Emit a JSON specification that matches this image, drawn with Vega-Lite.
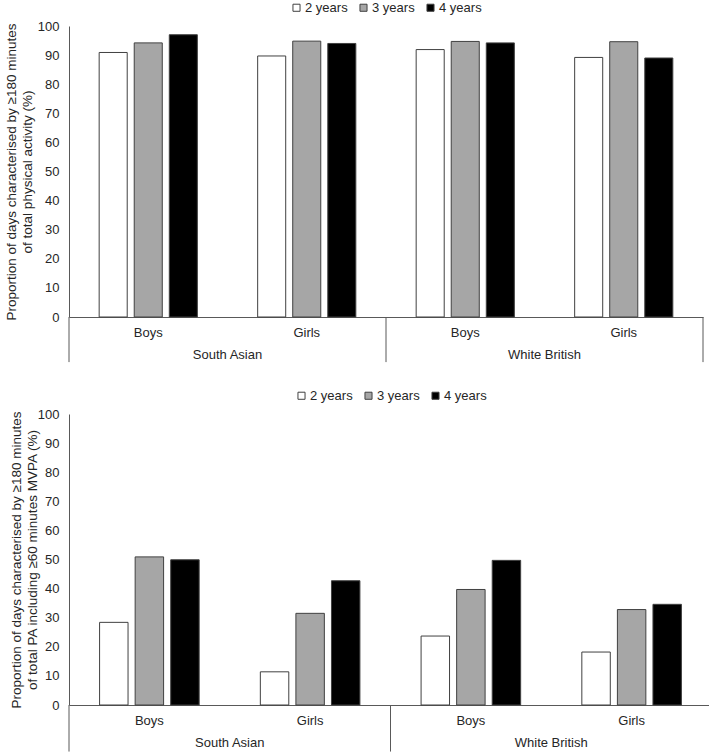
{
  "$schema": "https://vega.github.io/schema/vega-lite/v6.json",
  "background": "white",
  "padding": {"top": 1, "left": 4, "right": 4, "bottom": 0},
  "datasets": {
    "pa": [
      {"panel": "TPA", "eth": "South Asian", "sex": "Boys", "year": "2 years", "value": 90.9},
      {"panel": "TPA", "eth": "South Asian", "sex": "Boys", "year": "3 years", "value": 94.2},
      {"panel": "TPA", "eth": "South Asian", "sex": "Boys", "year": "4 years", "value": 97.0},
      {"panel": "TPA", "eth": "South Asian", "sex": "Girls", "year": "2 years", "value": 89.7},
      {"panel": "TPA", "eth": "South Asian", "sex": "Girls", "year": "3 years", "value": 94.8},
      {"panel": "TPA", "eth": "South Asian", "sex": "Girls", "year": "4 years", "value": 94.0},
      {"panel": "TPA", "eth": "White British", "sex": "Boys", "year": "2 years", "value": 91.9},
      {"panel": "TPA", "eth": "White British", "sex": "Boys", "year": "3 years", "value": 94.7},
      {"panel": "TPA", "eth": "White British", "sex": "Boys", "year": "4 years", "value": 94.2},
      {"panel": "TPA", "eth": "White British", "sex": "Girls", "year": "2 years", "value": 89.2},
      {"panel": "TPA", "eth": "White British", "sex": "Girls", "year": "3 years", "value": 94.6},
      {"panel": "TPA", "eth": "White British", "sex": "Girls", "year": "4 years", "value": 89.0},
      {"panel": "MVPA", "eth": "South Asian", "sex": "Boys", "year": "2 years", "value": 28.4},
      {"panel": "MVPA", "eth": "South Asian", "sex": "Boys", "year": "3 years", "value": 50.9},
      {"panel": "MVPA", "eth": "South Asian", "sex": "Boys", "year": "4 years", "value": 49.9},
      {"panel": "MVPA", "eth": "South Asian", "sex": "Girls", "year": "2 years", "value": 11.4},
      {"panel": "MVPA", "eth": "South Asian", "sex": "Girls", "year": "3 years", "value": 31.5},
      {"panel": "MVPA", "eth": "South Asian", "sex": "Girls", "year": "4 years", "value": 42.7},
      {"panel": "MVPA", "eth": "White British", "sex": "Boys", "year": "2 years", "value": 23.7},
      {"panel": "MVPA", "eth": "White British", "sex": "Boys", "year": "3 years", "value": 39.7},
      {"panel": "MVPA", "eth": "White British", "sex": "Boys", "year": "4 years", "value": 49.7},
      {"panel": "MVPA", "eth": "White British", "sex": "Girls", "year": "2 years", "value": 18.2},
      {"panel": "MVPA", "eth": "White British", "sex": "Girls", "year": "3 years", "value": 32.8},
      {"panel": "MVPA", "eth": "White British", "sex": "Girls", "year": "4 years", "value": 34.6}
    ],
    "seps_start": [{"cat": "South Asian|Boys"}, {"cat": "White British|Boys"}],
    "seps_end": [{"cat": "White British|Girls"}],
    "groups": [
      {"cat": "South Asian|Girls", "label": "South Asian"},
      {"cat": "White British|Girls", "label": "White British"}
    ]
  },
  "concat": [
    {
      "width": 634,
      "height": 291,
      "layer": [
        {
          "data": {"name": "pa"},
          "transform": [
            {"filter": "datum.panel == 'TPA'"},
            {"calculate": "datum.eth + '|' + datum.sex", "as": "cat"}
          ],
          "mark": {"type": "bar", "stroke": "#404040", "strokeWidth": 1},
          "encoding": {
            "x": {
              "field": "cat", "type": "nominal",
              "scale": {"domain": ["South Asian|Boys", "South Asian|Girls", "White British|Boys", "White British|Girls"], "paddingInner": 0, "paddingOuter": 0},
              "axis": {"title": null, "labelExpr": "split(datum.value, '|')[1]"}
            },
            "xOffset": {
              "field": "year", "type": "nominal",
              "scale": {"domain": ["2 years", "3 years", "4 years"], "paddingInner": 0.2, "paddingOuter": 0.86}
            },
            "y": {
              "field": "value", "type": "quantitative",
              "scale": {"domain": [0, 100], "nice": false},
              "axis": {"title": ["Proportion of days characterised by ≥180 minutes", "of total physical activity (%)"], "titlePadding": 3}
            },
            "color": {
              "field": "year", "type": "nominal",
              "scale": {"domain": ["2 years", "3 years", "4 years"], "range": ["#FFFFFF", "#A6A6A6", "#000000"]},
              "legend": {"title": null, "orient": "top", "direction": "horizontal", "symbolType": "square", "symbolSize": 50, "symbolStrokeColor": "#404040", "symbolStrokeWidth": 1, "labelFontSize": 13, "labelColor": "#262626", "columnPadding": 9, "labelOffset": 2, "offset": 11}
            }
          }
        },
        {
          "data": {"name": "seps_start"},
          "mark": {"type": "rule", "color": "#595959", "strokeWidth": 1},
          "encoding": {
            "x": {"field": "cat", "type": "nominal", "bandPosition": 0, "axis": {"title": null, "labelExpr": "split(datum.value, '|')[1]"}},
            "y": {"datum": 0, "type": "quantitative", "axis": {"title": ["Proportion of days characterised by ≥180 minutes", "of total physical activity (%)"], "titlePadding": 3}},
            "y2": {"datum": -15.5}
          }
        },
        {
          "data": {"name": "seps_end"},
          "mark": {"type": "rule", "color": "#595959", "strokeWidth": 1},
          "encoding": {
            "x": {"field": "cat", "type": "nominal", "bandPosition": 1, "axis": {"title": null, "labelExpr": "split(datum.value, '|')[1]"}},
            "y": {"datum": 0, "type": "quantitative", "axis": {"title": ["Proportion of days characterised by ≥180 minutes", "of total physical activity (%)"], "titlePadding": 3}},
            "y2": {"datum": -15.5}
          }
        },
        {
          "data": {"name": "groups"},
          "mark": {"type": "text", "fontSize": 13, "color": "#262626", "baseline": "middle", "align": "center"},
          "encoding": {
            "x": {"field": "cat", "type": "nominal", "bandPosition": 0, "axis": {"title": null, "labelExpr": "split(datum.value, '|')[1]"}},
            "y": {"datum": -13.2, "type": "quantitative", "axis": {"title": ["Proportion of days characterised by ≥180 minutes", "of total physical activity (%)"], "titlePadding": 3}},
            "text": {"field": "label"}
          }
        }
      ]
    },
    {
      "width": 643,
      "height": 291,
      "layer": [
        {
          "data": {"name": "pa"},
          "transform": [
            {"filter": "datum.panel == 'MVPA'"},
            {"calculate": "datum.eth + '|' + datum.sex", "as": "cat"}
          ],
          "mark": {"type": "bar", "stroke": "#404040", "strokeWidth": 1},
          "encoding": {
            "x": {
              "field": "cat", "type": "nominal",
              "scale": {"domain": ["South Asian|Boys", "South Asian|Girls", "White British|Boys", "White British|Girls"], "paddingInner": 0, "paddingOuter": 0},
              "axis": {"title": null, "labelExpr": "split(datum.value, '|')[1]"}
            },
            "xOffset": {
              "field": "year", "type": "nominal",
              "scale": {"domain": ["2 years", "3 years", "4 years"], "paddingInner": 0.2, "paddingOuter": 0.86}
            },
            "y": {
              "field": "value", "type": "quantitative",
              "scale": {"domain": [0, 100], "nice": false},
              "axis": {"title": ["Proportion of days characterised by ≥180 minutes", "of total PA including ≥60 minutes MVPA (%)"], "titlePadding": -2}
            },
            "color": {
              "field": "year", "type": "nominal",
              "scale": {"domain": ["2 years", "3 years", "4 years"], "range": ["#FFFFFF", "#A6A6A6", "#000000"]},
              "legend": {"title": null, "orient": "top", "direction": "horizontal", "symbolType": "square", "symbolSize": 50, "symbolStrokeColor": "#404040", "symbolStrokeWidth": 1, "labelFontSize": 13, "labelColor": "#262626", "columnPadding": 9, "labelOffset": 2, "offset": 11}
            }
          }
        },
        {
          "data": {"name": "seps_start"},
          "mark": {"type": "rule", "color": "#595959", "strokeWidth": 1},
          "encoding": {
            "x": {"field": "cat", "type": "nominal", "bandPosition": 0, "axis": {"title": null, "labelExpr": "split(datum.value, '|')[1]"}},
            "y": {"datum": 0, "type": "quantitative", "axis": {"title": ["Proportion of days characterised by ≥180 minutes", "of total PA including ≥60 minutes MVPA (%)"], "titlePadding": -2}},
            "y2": {"datum": -16}
          }
        },
        {
          "data": {"name": "seps_end"},
          "mark": {"type": "rule", "color": "#595959", "strokeWidth": 1},
          "encoding": {
            "x": {"field": "cat", "type": "nominal", "bandPosition": 1, "axis": {"title": null, "labelExpr": "split(datum.value, '|')[1]"}},
            "y": {"datum": 0, "type": "quantitative", "axis": {"title": ["Proportion of days characterised by ≥180 minutes", "of total PA including ≥60 minutes MVPA (%)"], "titlePadding": -2}},
            "y2": {"datum": -16}
          }
        },
        {
          "data": {"name": "groups"},
          "mark": {"type": "text", "fontSize": 13, "color": "#262626", "baseline": "middle", "align": "center"},
          "encoding": {
            "x": {"field": "cat", "type": "nominal", "bandPosition": 0, "axis": {"title": null, "labelExpr": "split(datum.value, '|')[1]"}},
            "y": {"datum": -13.2, "type": "quantitative", "axis": {"title": ["Proportion of days characterised by ≥180 minutes", "of total PA including ≥60 minutes MVPA (%)"], "titlePadding": -2}},
            "text": {"field": "label"}
          }
        }
      ]
    }
  ],
  "columns": 1,
  "align": "none",
  "spacing": 26,
  "resolve": {
    "scale": {"x": "independent", "y": "independent", "xOffset": "independent"},
    "legend": {"color": "independent"}
  },
  "config": {
    "font": "Liberation Sans",
    "view": {"stroke": null},
    "legend": {"layout": {"top": {"anchor": "middle"}}},
    "axisX": {"ticks": false, "labelAngle": 0, "labelPadding": 9, "domainColor": "#595959", "labelFontSize": 13, "labelColor": "#262626"},
    "axisY": {"tickCount": 10, "labelOverlap": false, "grid": false, "ticks": false, "domainColor": "#595959", "labelPadding": 10, "labelFontSize": 13, "labelColor": "#262626", "titleFontSize": 13.5, "titleFontWeight": "normal", "titleColor": "#262626", "titleLineHeight": 16}
  }
}
